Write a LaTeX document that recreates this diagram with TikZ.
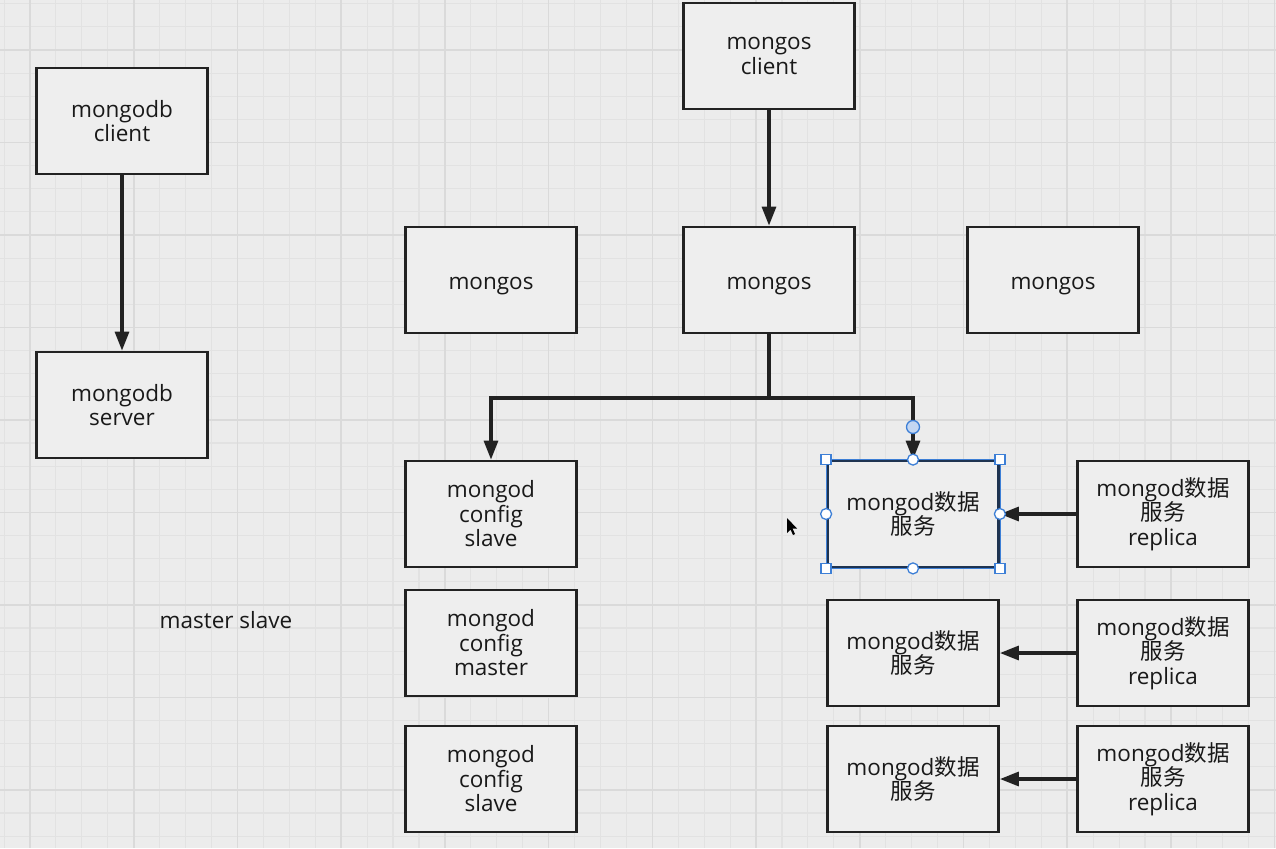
\documentclass[tikz,border=0pt]{standalone}
\usepackage{fontspec}
\setmainfont{Open Sans}
\newfontfamily\cjk{Noto Sans CJK SC}
\usetikzlibrary{arrows.meta}
\definecolor{bg}{HTML}{ECECEC}
\definecolor{minorc}{HTML}{E2E2E2}
\definecolor{majorc}{HTML}{DADADA}
\definecolor{boxfill}{HTML}{EEEEEE}
\definecolor{ink}{HTML}{222222}
\definecolor{selblue}{HTML}{3D7FD6}
\definecolor{selring}{HTML}{1E3350}
\definecolor{handlefill}{HTML}{C4D7F2}
\begin{document}
\begin{tikzpicture}[x=1pt,y=-1pt,
  minorl/.style={draw=minorc,line width=1.1pt},
  majorl/.style={draw=majorc,line width=1.6pt},
  box/.style={draw=ink,line width=2.8pt,fill=boxfill,minimum width=171pt,minimum height=106pt,
    inner sep=0pt,align=center,text=black!90,font=\fontsize{22.5}{24.5}\selectfont},
  single/.style={text height=18pt,text depth=0pt},
  arr/.style={draw=ink,line width=3.2pt,-{Triangle[length=19pt,width=14pt]}},
  plain/.style={draw=ink,line width=3.2pt},
  sqh/.style={draw=selblue,line width=1.3pt,fill=white,minimum size=10pt,inner sep=0pt,rectangle},
  cih/.style={draw=selblue,line width=1.3pt,fill=white,minimum size=11pt,inner sep=0pt,circle},
  lbl/.style={text=black!90,font=\fontsize{22.5}{24.5}\selectfont}]
\useasboundingbox (0,0) rectangle (1276,848);
\fill[bg] (0,0) rectangle (1276,848);
% grid
\foreach \i in {0,...,49} \draw[minorl] ({4.07+25.93*\i},0) -- ++(0,848);
\foreach \i in {0,...,36} \draw[minorl] (0,{3.76+23.12*\i}) -- ++(1276,0);
\foreach \i in {0,...,12} \draw[majorl] ({30+103.72*\i},0) -- ++(0,848);
\foreach \i in {0,...,9} \draw[majorl] (0,{50+92.48*\i}) -- ++(1276,0);
% boxes
\node[box] (mc) at (122,121) {mongodb\\client};
\node[box] (ms) at (122,405) {mongodb\\server};
\node[box] (sc) at (769,56) {mongos\\client};
\node[box,single] (m1) at (491,280) {mongos};
\node[box,single] (m2) at (769,280) {mongos};
\node[box,single] (m3) at (1053,280) {mongos};
\node[box] (c1) at (491,514) {mongod\\config\\slave};
\node[box] (c2) at (491,643) {mongod\\config\\master};
\node[box] (c3) at (491,779) {mongod\\config\\slave};
\node[box,draw=selring] (d1) at (913,514) {mongod{\cjk 数据}\\{\cjk 服务}};
\node[box] (d2) at (913,653) {mongod{\cjk 数据}\\{\cjk 服务}};
\node[box] (d3) at (913,779) {mongod{\cjk 数据}\\{\cjk 服务}};
\node[box] (r1) at (1163,514) {mongod{\cjk 数据}\\{\cjk 服务}\\replica};
\node[box] (r2) at (1163,653) {mongod{\cjk 数据}\\{\cjk 服务}\\replica};
\node[box] (r3) at (1163,779) {mongod{\cjk 数据}\\{\cjk 服务}\\replica};
\node[lbl] (txt) at (226,620) {master slave};
% connectors
\draw[arr] (mc.south) -- (ms.north);
\draw[arr] (sc.south) -- (m2.north);
\coordinate (j) at (769,398);
\draw[plain] (m2.south) -- (j);
\draw[arr] (j) -| (c1.north);
\draw[arr] (j) -| (d1.north);
\draw[arr] (r1.west) -- (d1.east);
\draw[arr] (r2.west) -- (d2.east);
\draw[arr] (r3.west) -- (d3.east);
% selection outline and handles
\draw[selblue,line width=0.8pt] (d1.north west) rectangle (d1.south east);
\node[sqh] at (d1.north west) {};
\node[sqh] at (d1.north east) {};
\node[sqh] at (d1.south west) {};
\node[sqh] at (d1.south east) {};
\node[cih] at (d1.north) {};
\node[cih] at (d1.south) {};
\node[cih] at (d1.west) {};
\node[cih] at (d1.east) {};
\node[cih,fill=handlefill,minimum size=13pt] at (913,427) {};
% mouse cursor
\fill[black] (787,518) -- (787,533) -- (790.5,529.5) -- (793,535) -- (795,534) -- (792.5,528.5) -- (797,528.5) -- cycle;
\end{tikzpicture}
\end{document}
